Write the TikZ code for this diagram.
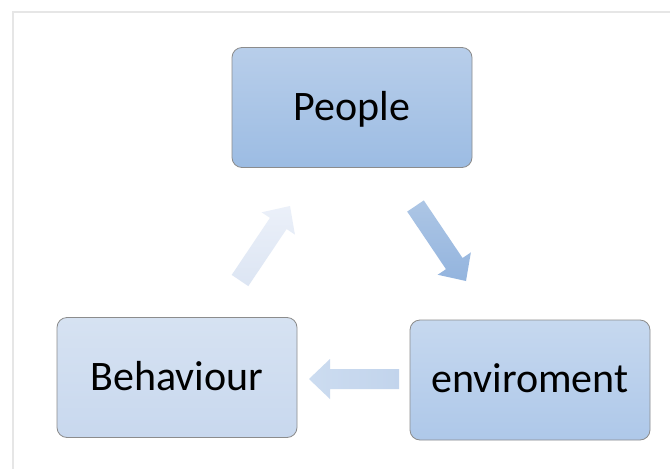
\documentclass[tikz,border=0pt]{standalone}
\usepackage{fontspec}
\setmainfont{Carlito}
\usetikzlibrary{calc}

\definecolor{frameline}{HTML}{E6E6E6}
\definecolor{boxedge}{HTML}{8C8C8C}
\definecolor{peopletop}{HTML}{B8CEEA}
\definecolor{peoplebot}{HTML}{9CBCE3}
\definecolor{behavtop}{HTML}{D6E2F2}
\definecolor{behavbot}{HTML}{C8D8EE}
\definecolor{envtop}{HTML}{C6D8EF}
\definecolor{envbot}{HTML}{AEC8E9}
\definecolor{uptip}{HTML}{EBF0F9}
\definecolor{uptail}{HTML}{DCE5F3}
\definecolor{downtop}{HTML}{ADC6E5}
\definecolor{downbot}{HTML}{93B4DE}
\definecolor{lefthead}{HTML}{CCDCF0}
\definecolor{lefttail}{HTML}{C2D4EC}

% block arrow from #1 to #2: shaft 20pt wide, head 40pt wide and 21pt long
\newcommand{\blockarrow}[3]{%
  \shade[#3]
    ($(#1)!10pt!90:(#2)$)
    -- ($($(#2)!21pt!(#1)$)!10pt!90:(#2)$)
    -- ($($(#2)!21pt!(#1)$)!20pt!90:(#2)$)
    -- (#2)
    -- ($($(#2)!21pt!(#1)$)!20pt!-90:(#2)$)
    -- ($($(#2)!21pt!(#1)$)!10pt!-90:(#2)$)
    -- ($(#1)!10pt!-90:(#2)$)
    -- cycle;}

\tikzset{
  box/.style={draw=boxedge, line width=0.8pt, rounded corners=10pt,
    minimum width=240pt, minimum height=120pt, inner sep=0pt,
    font=\fontsize{42}{50}\selectfont, text height=30pt, text depth=5pt},
}

\begin{document}
\begin{tikzpicture}[x=1pt, y=-1pt]
  \useasboundingbox (0,0) rectangle (670,469);
  \fill[white] (0,0) rectangle (670,469);

  % page frame
  \draw[frameline, line width=2pt] (13,469) -- (13,12) -- (670,12);

  % the three stages
  \node[box, top color=peopletop, bottom color=peoplebot] (people) at (352,107.5) {People};
  \node[box, top color=behavtop, bottom color=behavbot] (behaviour) at (177,377.5) {Behaviour};
  \node[box, top color=envtop, bottom color=envbot] (environment) at (530,380) {enviroment};

  % arrow end points
  \coordinate (pe-from) at (415.5,206);
  \coordinate (pe-to)   at (466,281);
  \coordinate (eb-from) at (399,379);
  \coordinate (eb-to)   at (309,379);
  \coordinate (bp-from) at (240,280.5);
  \coordinate (bp-to)   at (290,206);

  % cycle arrows
  \blockarrow{pe-from}{pe-to}{top color=downtop, bottom color=downbot}
  \blockarrow{eb-from}{eb-to}{left color=lefthead, right color=lefttail}
  \blockarrow{bp-from}{bp-to}{top color=uptip, bottom color=uptail}
\end{tikzpicture}
\end{document}
